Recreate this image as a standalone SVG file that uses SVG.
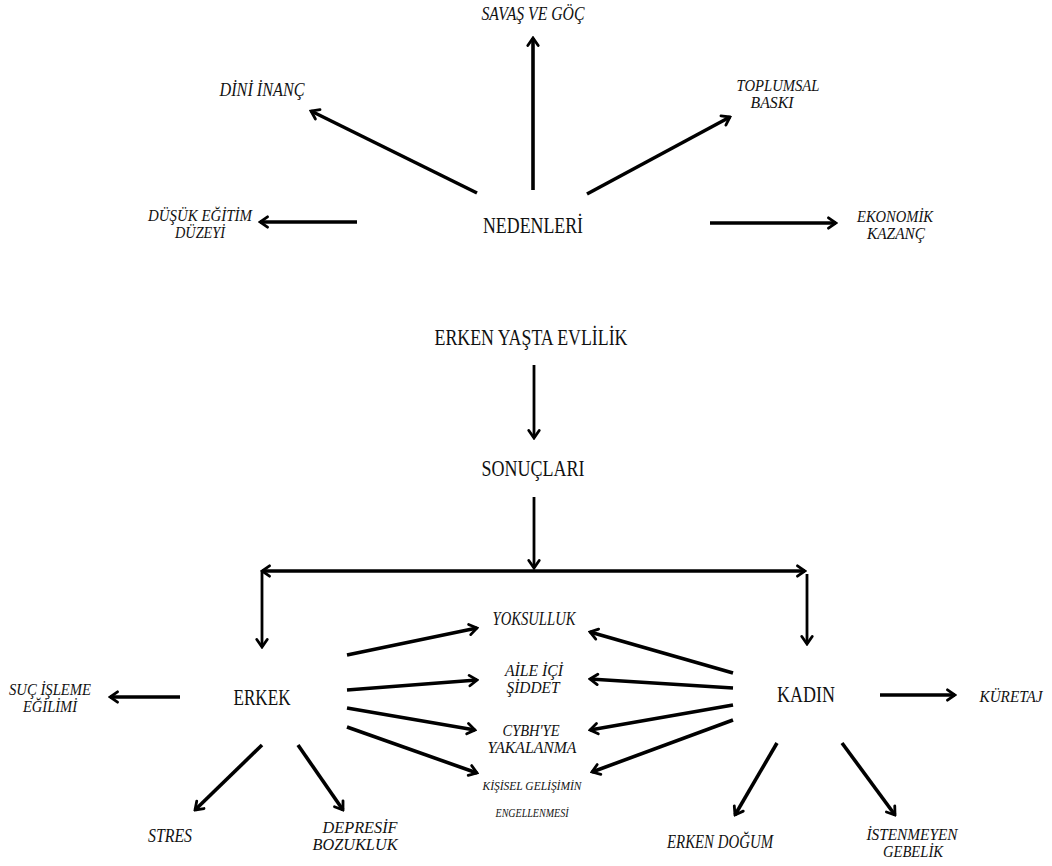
<svg xmlns="http://www.w3.org/2000/svg" width="1052" height="866" viewBox="0 0 1052 866">
<defs>
<marker id="ah" viewBox="0 0 14 14" refX="12" refY="7" markerWidth="14" markerHeight="14" markerUnits="userSpaceOnUse" orient="auto">
<path d="M4.5,1.8 L12,7 L4.5,12.2" fill="none" stroke="#000" stroke-width="2.8" stroke-linecap="round" stroke-linejoin="miter"/>
</marker>
<style>
.c line{stroke:#000;stroke-width:3.6;fill:none;marker-end:url(#ah)}
.c line.v{stroke-width:2.8}
text{font-family:"Liberation Serif","Times New Roman",serif;fill:#111;text-anchor:middle}
.m{font-size:23px}
.l{font-size:17px;font-style:italic}
.l1{font-size:18.5px;font-style:italic}
.s{font-size:13px;font-style:italic}
</style>
</defs>
<rect width="1052" height="866" fill="#fff"/>
<g class="c" id="connectors">
<line x1="533" y1="190" x2="533" y2="38"/>
<line x1="477" y1="193" x2="311" y2="111"/>
<line x1="587" y1="194" x2="730" y2="117"/>
<line x1="357" y1="222" x2="260" y2="222"/>
<line x1="710" y1="223" x2="836" y2="223"/>
<line class="v" x1="534" y1="365" x2="534" y2="438"/>
<line class="v" x1="534" y1="497" x2="534" y2="568"/>
<line x1="534" y1="571" x2="262" y2="571"/>
<line x1="534" y1="571" x2="805" y2="571"/>
<line class="v" x1="262" y1="572" x2="262" y2="647"/>
<line class="v" x1="807" y1="574" x2="807" y2="644"/>
<line x1="180" y1="697" x2="110" y2="697"/>
<line x1="262" y1="745" x2="195" y2="810"/>
<line x1="298" y1="745" x2="343" y2="810"/>
<line x1="347" y1="655" x2="477" y2="628"/>
<line x1="347" y1="690" x2="477" y2="680"/>
<line x1="347" y1="708" x2="475" y2="730"/>
<line x1="347" y1="727" x2="477" y2="773"/>
<line x1="733" y1="673" x2="590" y2="632"/>
<line x1="733" y1="688" x2="590" y2="679"/>
<line x1="733" y1="705" x2="590" y2="730"/>
<line x1="733" y1="720" x2="592" y2="772"/>
<line x1="880" y1="695" x2="955" y2="695"/>
<line x1="777" y1="743" x2="735" y2="815"/>
<line x1="842" y1="743" x2="895" y2="815"/>
</g>
<g id="nedenleri"><text class="m" x="533" y="233" font-size="24" textLength="100" lengthAdjust="spacingAndGlyphs">NEDENLERİ</text></g>
<g id="savas"><text class="l1" x="533" y="20" textLength="103" lengthAdjust="spacingAndGlyphs">SAVAŞ VE GÖÇ</text></g>
<g id="dini"><text class="l1" x="262" y="96" textLength="85" lengthAdjust="spacingAndGlyphs">DİNİ İNANÇ</text></g>
<g id="toplumsal"><text class="l"><tspan x="778" y="91" textLength="83" lengthAdjust="spacingAndGlyphs">TOPLUMSAL</tspan><tspan x="772" y="108" textLength="43" lengthAdjust="spacingAndGlyphs">BASKI</tspan></text></g>
<g id="egitim"><text class="l"><tspan x="200" y="221" textLength="104" lengthAdjust="spacingAndGlyphs">DÜŞÜK EĞİTİM</tspan><tspan x="200" y="238" textLength="50" lengthAdjust="spacingAndGlyphs">DÜZEYİ</tspan></text></g>
<g id="ekonomik"><text class="l"><tspan x="895" y="222" textLength="76" lengthAdjust="spacingAndGlyphs">EKONOMİK</tspan><tspan x="896" y="239" textLength="58" lengthAdjust="spacingAndGlyphs">KAZANÇ</tspan></text></g>
<g id="erken-yasta"><text class="m" x="531" y="345" font-size="21" textLength="193" lengthAdjust="spacingAndGlyphs">ERKEN YAŞTA EVLİLİK</text></g>
<g id="sonuclari"><text class="m" x="533" y="476" font-size="21" textLength="103" lengthAdjust="spacingAndGlyphs">SONUÇLARI</text></g>
<g id="erkek"><text class="m" x="262" y="705" font-size="22" textLength="57" lengthAdjust="spacingAndGlyphs">ERKEK</text></g>
<g id="kadin"><text class="m" x="806" y="702" font-size="22" textLength="58" lengthAdjust="spacingAndGlyphs">KADIN</text></g>
<g id="suc"><text class="l"><tspan x="50" y="695" textLength="82" lengthAdjust="spacingAndGlyphs">SUÇ İŞLEME</tspan><tspan x="50" y="712" textLength="54" lengthAdjust="spacingAndGlyphs">EĞİLİMİ</tspan></text></g>
<g id="stres"><text class="l1" x="170" y="842" textLength="44" lengthAdjust="spacingAndGlyphs">STRES</text></g>
<g id="depresif"><text class="l"><tspan x="360" y="833" textLength="75" lengthAdjust="spacingAndGlyphs">DEPRESİF</tspan><tspan x="355" y="850" textLength="85" lengthAdjust="spacingAndGlyphs">BOZUKLUK</tspan></text></g>
<g id="yoksulluk"><text class="l1" x="534" y="625" textLength="83" lengthAdjust="spacingAndGlyphs">YOKSULLUK</text></g>
<g id="aile"><text class="l"><tspan x="534" y="676" textLength="58" lengthAdjust="spacingAndGlyphs">AİLE İÇİ</tspan><tspan x="533" y="693" textLength="53" lengthAdjust="spacingAndGlyphs">ŞİDDET</tspan></text></g>
<g id="cybh"><text class="l"><tspan x="531" y="736" textLength="57" lengthAdjust="spacingAndGlyphs">CYBH'YE</tspan><tspan x="532" y="753" textLength="89" lengthAdjust="spacingAndGlyphs">YAKALANMA</tspan></text></g>
<g id="kisisel"><text class="s"><tspan x="532" y="790" textLength="99" lengthAdjust="spacingAndGlyphs">KİŞİSEL GELİŞİMİN</tspan><tspan x="532" y="817" textLength="73" lengthAdjust="spacingAndGlyphs">ENGELLENMESİ</tspan></text></g>
<g id="kuretaj"><text class="l" x="1011" y="702" font-size="16.5" textLength="63" lengthAdjust="spacingAndGlyphs">KÜRETAJ</text></g>
<g id="erken-dogum"><text class="l1" x="720" y="848" textLength="106" lengthAdjust="spacingAndGlyphs">ERKEN DOĞUM</text></g>
<g id="istenmeyen"><text class="l"><tspan x="912" y="840" textLength="91" lengthAdjust="spacingAndGlyphs">İSTENMEYEN</tspan><tspan x="913" y="857" textLength="60" lengthAdjust="spacingAndGlyphs">GEBELİK</tspan></text></g>
</svg>
